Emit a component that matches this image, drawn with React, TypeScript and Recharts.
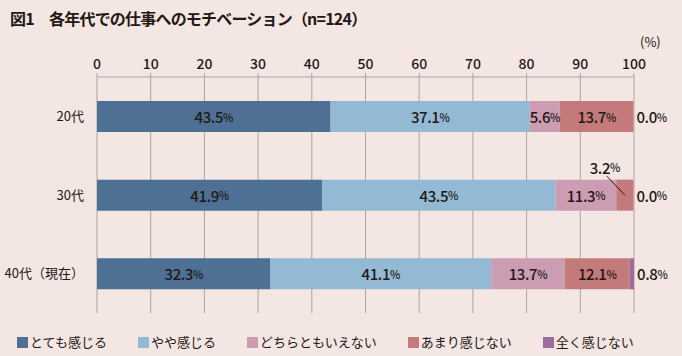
import * as React from 'react';
import { BarChart, Bar, XAxis, YAxis, CartesianGrid, LabelList } from 'recharts';

const categories = ['20代', '30代', '40代（現在）'];
const seriesNames = ['とても感じる', 'やや感じる', 'どちらともいえない', 'あまり感じない', '全く感じない'];
const seriesKeys = ['veryMuch', 'somewhat', 'neutral', 'notMuch', 'notAtAll'];
const colors = ['#4e7094', '#93b9d4', '#cc9db2', '#c47a7b', '#9b6c9c'];

const veryMuch = [43.5, 41.9, 32.3];
const somewhat = [37.1, 43.5, 41.1];
const neutral = [5.6, 11.3, 13.7];
const notMuch = [13.7, 3.2, 12.1];
const notAtAll = [0.0, 0.0, 0.8];
const xTicks = [0, 10, 20, 30, 40, 50, 60, 70, 80, 90, 100];

const seriesValues = [veryMuch, somewhat, neutral, notMuch, notAtAll];
const data = categories.map((name, i) => {
  const row: Record<string, any> = { name };
  seriesKeys.forEach((k, s) => { row[k] = seriesValues[s][i]; });
  return row;
});

const BG = '#f4e6e3';
const INK = '#231815';
const FONT = "'Noto Sans CJK JP', 'Noto Sans', sans-serif";

const pctText = (x: number, y: number, v: number, anchor: 'middle' | 'start') => (
  <text x={x} y={y} textAnchor={anchor} dominantBaseline="central" fill={INK} fontFamily={FONT}
    fontSize={15} fontWeight={500} letterSpacing={-0.4}>
    {v.toFixed(1)}<tspan fontSize={11}>%</tspan>
  </text>
);

// in-bar labels; small values get a leader line and sit above the bar
const makeLabel = (seriesIdx: number) => (props: any) => {
  const x = Number(props.x), y = Number(props.y), w = Number(props.width), h = Number(props.height);
  const v = Number(props.value);
  const cx = x + w / 2, cy = y + h / 2;
  if (v < 4) {
    return (
      <g>
        <line x1={cx - 18} y1={cy - 19} x2={cx} y2={cy} stroke={INK} strokeWidth={1} />
        {pctText(cx - 20, cy - 28, v, 'middle')}
      </g>
    );
  }
  return pctText(cx, cy, v, 'middle');
};

// the last series (often 0) is labelled to the right of the whole stack,
// hung off the previous segment's rect since zero-width bars get no label
const trailingLabel = (props: any) => {
  const x = Number(props.x), y = Number(props.y), w = Number(props.width), h = Number(props.height);
  const idx = Number(props.index);
  const own = notMuch[idx];
  const last = notAtAll[idx];
  const pxPerUnit = own > 0 ? w / own : 0;
  return pctText(x + w + last * pxPerUnit + 3, y + h / 2, last, 'start');
};

export default function App() {
  return (
    <div style={{ position: 'absolute', left: 0, top: 0, width: 682, height: 356, background: BG, fontFamily: FONT, color: INK }}>
      <div style={{ position: 'absolute', left: 10, top: 8, fontSize: 16, lineHeight: '20px', fontWeight: 700, whiteSpace: 'nowrap', letterSpacing: -0.8 }}>
        図1　各年代での仕事へのモチベーション（n=124）
      </div>
      <div style={{ position: 'absolute', left: 640, top: 33, fontSize: 13, lineHeight: '18px' }}>(%)</div>
      <BarChart
        width={682}
        height={356}
        data={data}
        layout="vertical"
        margin={{ top: 47, right: 48, bottom: 43, left: 0 }}
        style={{ position: 'absolute', left: 0, top: 0 }}
      >
        <CartesianGrid horizontal={false} vertical={true} stroke="#a6a6a6" />
        <XAxis
          type="number"
          orientation="top"
          domain={[0, 100]}
          ticks={xTicks}
          interval={0}
          height={30}
          stroke="#a6a6a6"
          tickSize={4}
          tickMargin={4}
          tick={{ fill: INK, fontSize: 14, fontWeight: 500, fontFamily: FONT }}
        />
        <YAxis
          type="category"
          dataKey="name"
          width={97}
          axisLine={false}
          tickLine={false}
          tickSize={0}
          tickMargin={13}
          tick={{ fill: INK, fontSize: 13, fontFamily: FONT }}
        />
        {seriesKeys.map((k, s) => (
          <Bar key={k} dataKey={k} name={seriesNames[s]} stackId="a" fill={colors[s]} barSize={31} isAnimationActive={false}>
            {s < seriesKeys.length - 1 && <LabelList dataKey={k} content={makeLabel(s)} />}
            {s === seriesKeys.length - 2 && <LabelList dataKey={seriesKeys[s + 1]} content={trailingLabel} />}
          </Bar>
        ))}
      </BarChart>
      <div style={{ position: 'absolute', left: 17, top: 333, display: 'flex', gap: 31, alignItems: 'center', fontSize: 13, lineHeight: '18px' }}>
        {seriesNames.map((n, s) => (
          <div key={n} style={{ display: 'flex', alignItems: 'center' }}>
            <span style={{ display: 'inline-block', width: 11, height: 11, background: colors[s], marginRight: 2 }} />
            <span>{n}</span>
          </div>
        ))}
      </div>
    </div>
  );
}
